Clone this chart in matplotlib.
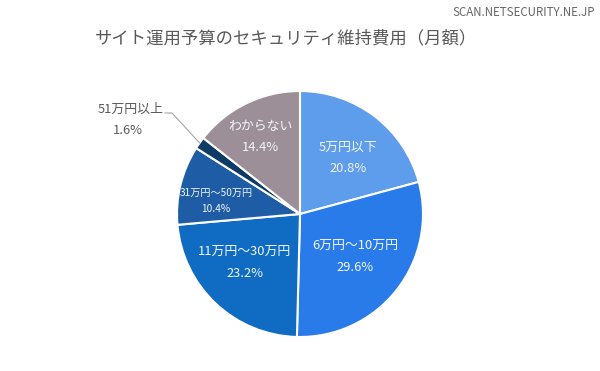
import numpy as np
import matplotlib
matplotlib.use("Agg")
import matplotlib.pyplot as plt

plt.rcParams['font.family'] = ['Noto Sans CJK JP', 'DejaVu Sans']

# data
categories = ["5万円以下", "6万円～10万円", "11万円～30万円", "31万円～50万円", "51万円以上", "わからない"]
shares = [20.8, 29.6, 23.2, 10.4, 1.6, 14.4]
colors = ["#5E9CEC", "#2A7BEA", "#0F6CC2", "#1E5DA5", "#0D3B66", "#9C8F97"]

# label placement (angle in degrees, distance as fraction of radius), None = outside label
label_pos = [(49.4, 0.60), (-38.0, 0.57), (-138.3, 0.60), (171.2, 0.69), None, (117.0, 0.70)]
label_size = [9.3, 9.3, 9.3, 7.3, 9.3, 9.3]

W, H = 600, 371
fig = plt.figure(figsize=(W / 100, H / 100), dpi=100)
ax = fig.add_axes([0, 0, 1, 1])

cx, cy, r = 300, H - 214, 123
wedges, _ = ax.pie(shares, colors=colors, startangle=90, counterclock=False,
                   center=(cx, cy), radius=r,
                   wedgeprops=dict(edgecolor="white", linewidth=1.5))
ax.set_xlim(0, W)
ax.set_ylim(0, H)
ax.set_aspect("auto")
ax.axis("off")

for i, (cat, val) in enumerate(zip(categories, shares)):
    pos = label_pos[i]
    if pos is None:
        # small slice: label outside with a leader line
        w = wedges[i]
        mid = np.deg2rad((w.theta1 + w.theta2) / 2)
        ex, ey = cx + r * np.cos(mid), cy + r * np.sin(mid)
        lx, ly = 131, H - 109
        ax.plot([ex, 172, 165], [ey, H - 113, H - 113], color="#A6A6A6", lw=0.8)
        ax.text(lx, ly, cat, ha="center", va="center", fontsize=label_size[i], color="#595959")
        ax.text(lx - 3, ly - 21, "%.1f%%" % val, ha="center", va="center",
                fontsize=label_size[i], color="#595959")
        continue
    ang, d = pos
    tx = cx + d * r * np.cos(np.deg2rad(ang))
    ty = cy + d * r * np.sin(np.deg2rad(ang))
    gap = 10.5 if label_size[i] > 8 else 8
    ax.text(tx, ty + gap, cat, ha="center", va="center", fontsize=label_size[i], color="#F2F6FC")
    ax.text(tx, ty - gap, "%.1f%%" % val, ha="center", va="center",
            fontsize=label_size[i], color="#F2F6FC")

ax.text(286, H - 38, "サイト運用予算のセキュリティ維持費用（月額）", ha="center", va="center",
        fontsize=12.5, color="#595959")
ax.text(595, H - 12, "SCAN.NETSECURITY.NE.JP", ha="right", va="center",
        fontsize=8.3, color="#666666")

fig.savefig("out.png", dpi=100)
